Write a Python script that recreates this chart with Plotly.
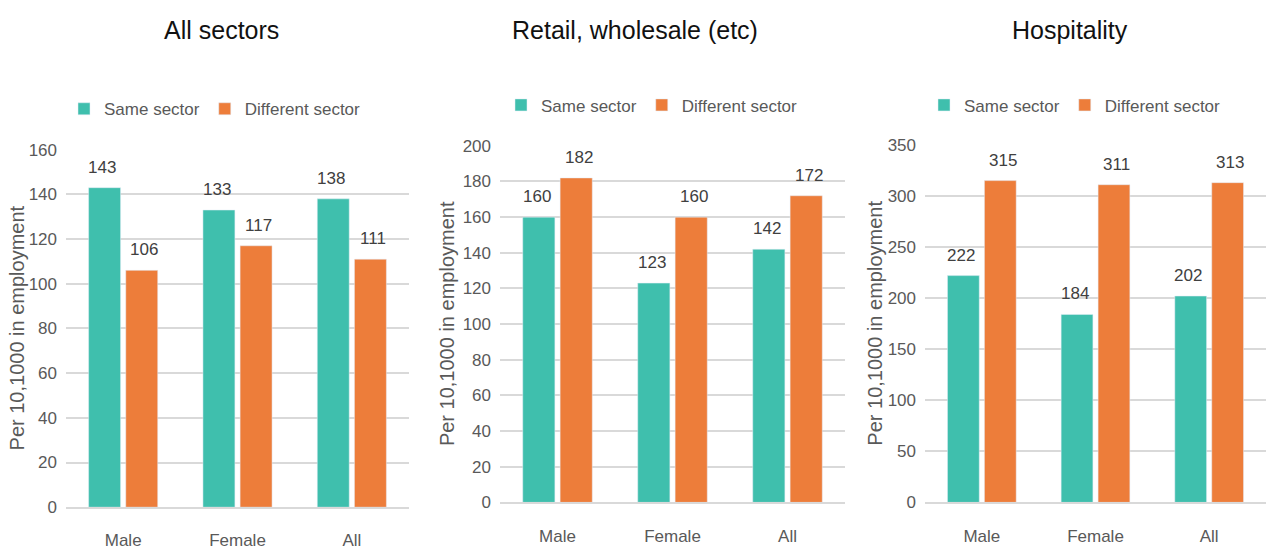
import plotly.graph_objects as go

# Data
categories = ["Male", "Female", "All"]
panel_titles = ["All sectors", "Retail, wholesale (etc)", "Hospitality"]
same_sector = [
    [143, 133, 138],
    [160, 123, 142],
    [222, 184, 202],
]
different_sector = [
    [106, 117, 111],
    [182, 160, 172],
    [315, 311, 313],
]
y_max = [160, 200, 350]
y_step = [20, 20, 50]

TEAL = "#3FBFAD"
ORANGE = "#ED7D3A"
TEXT = "#404040"
AXIS_TEXT = "#595959"
GRID = "#D9D9D9"
FONT = "Liberation Sans, Arial, sans-serif"

W, H = 1267, 550


def px_x(v):
    return v / W


def px_y(v):
    return 1 - v / H


# Plot-area boxes in pixels: (left, right, top, bottom)
boxes = [
    (66, 409, 146, 517),
    (500, 845, 142, 512),
    (925, 1266, 141, 512),
]
ytitle_x = [17, 447, 875]
title_x = [222, 635, 1070]
legend_x = [215, 652, 1075]
legend_y = [104, 100, 100]

fig = go.Figure()
annotations = []

for i in range(3):
    sfx = "" if i == 0 else str(i + 1)
    xa, ya = "x" + sfx, "y" + sfx
    leg = "legend" + sfx
    fig.add_trace(go.Bar(
        x=categories, y=same_sector[i], name="Same sector",
        marker_color=TEAL, xaxis=xa, yaxis=ya, legend=leg,
    ))
    fig.add_trace(go.Bar(
        x=categories, y=different_sector[i], name="Different sector",
        marker_color=ORANGE, xaxis=xa, yaxis=ya, legend=leg,
    ))
    left, right, top, bottom = boxes[i]
    fig.update_layout(**{
        "xaxis" + sfx: dict(
            domain=[px_x(left), px_x(right)], anchor=ya,
            showline=True, linecolor=GRID, linewidth=1.5,
            ticks="", tickfont=dict(size=17, color=AXIS_TEXT, family=FONT),
            ticklabelstandoff=17, fixedrange=True,
        ),
        "yaxis" + sfx: dict(
            domain=[px_y(bottom), px_y(top)], anchor=xa,
            range=[0, y_max[i]], dtick=y_step[i], tick0=0,
            showgrid=True, gridcolor=GRID, gridwidth=1.5,
            zeroline=False, showline=False,
            tickfont=dict(size=17, color=AXIS_TEXT, family=FONT),
            ticklabelstandoff=8, fixedrange=True,
        ),
        leg: dict(
            orientation="h", x=px_x(legend_x[i]), y=px_y(legend_y[i]),
            xanchor="center", yanchor="middle",
            font=dict(size=17, color=AXIS_TEXT, family=FONT),
            itemwidth=30, bgcolor="rgba(0,0,0,0)",
            traceorder="normal",
        ),
    })
    # Panel title
    annotations.append(dict(
        text=panel_titles[i], xref="paper", yref="paper",
        x=px_x(title_x[i]), y=px_y(22), xanchor="center", yanchor="middle",
        showarrow=False, font=dict(size=25, color="#111111", family=FONT),
    ))
    # Y-axis title
    annotations.append(dict(
        text="Per 10,1000 in employment", xref="paper", yref="paper",
        x=px_x(ytitle_x[i]), y=(px_y(top) + px_y(bottom)) / 2,
        xanchor="center", yanchor="middle", textangle=-90,
        showarrow=False, font=dict(size=20, color=AXIS_TEXT, family=FONT),
    ))
    # Value labels above the bars
    for series, shift in ((same_sector[i], -21), (different_sector[i], 21)):
        for cat, val in zip(categories, series):
            annotations.append(dict(
                text=str(val), x=cat, y=val, xref=xa, yref=ya,
                xanchor="center", yanchor="bottom", xshift=shift, yshift=9,
                showarrow=False, font=dict(size=17, color=TEXT, family=FONT),
            ))

fig.update_layout(
    width=W, height=H, margin=dict(l=0, r=0, t=0, b=0),
    paper_bgcolor="white", plot_bgcolor="white",
    barmode="group", bargap=0.35, bargroupgap=0.14,
    annotations=annotations, showlegend=True,
)

fig.write_html("out.html")
